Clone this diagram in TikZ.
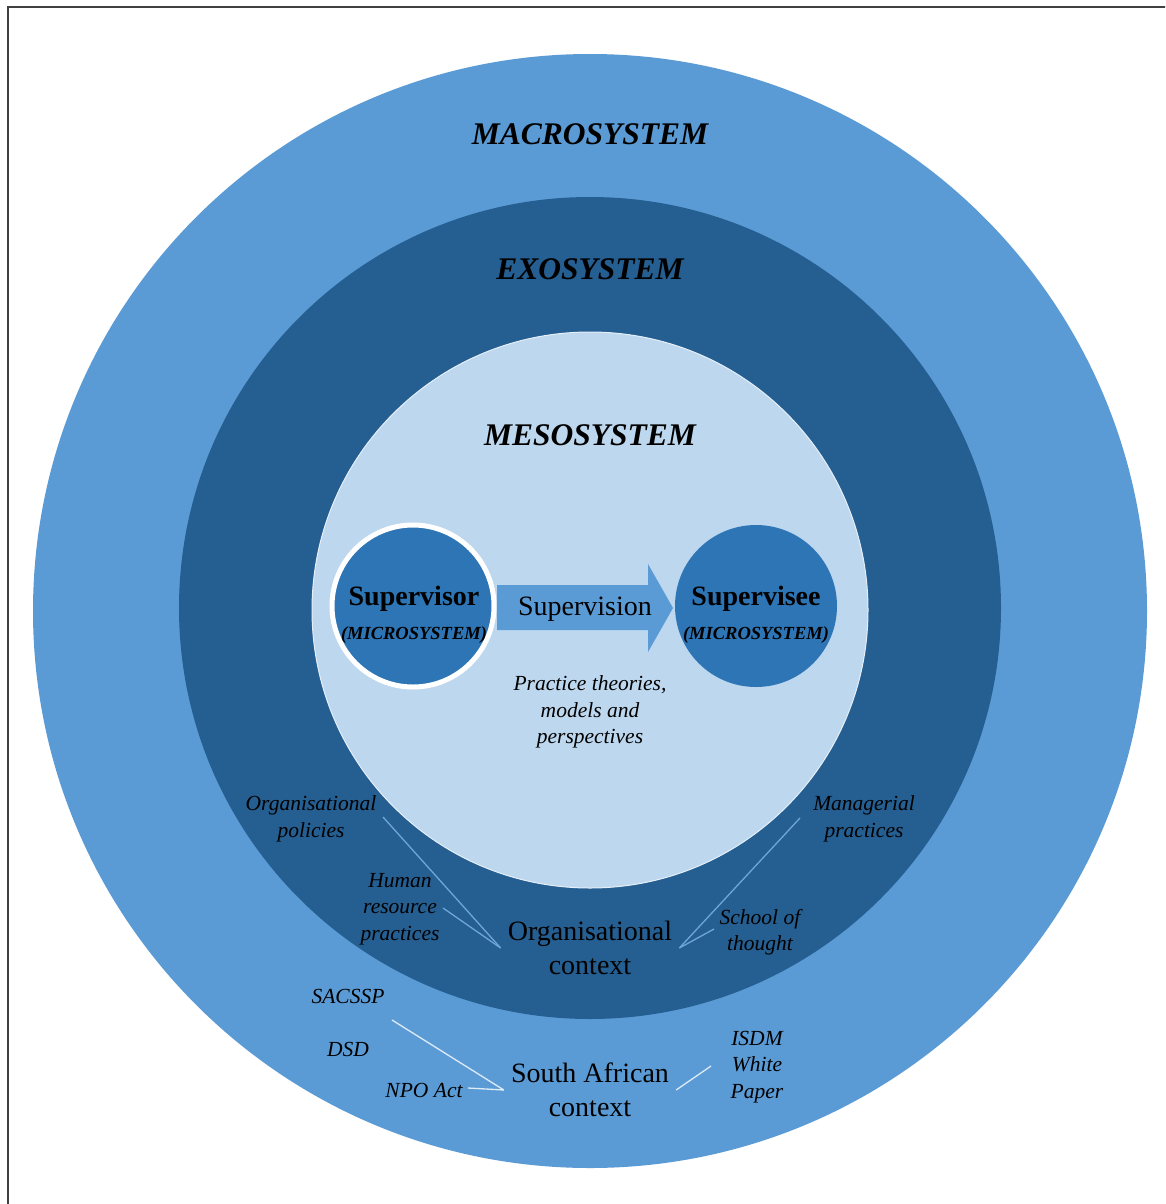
\documentclass[tikz,border=0pt]{standalone}
\usepackage{fontspec}
\setmainfont{Liberation Serif}
\usetikzlibrary{arrows.meta}

\definecolor{macrofill}{HTML}{5B9BD5}
\definecolor{exofill}{HTML}{255E91}
\definecolor{mesofill}{HTML}{BDD7EE}
\definecolor{microfill}{HTML}{2E75B6}
\definecolor{exoline}{HTML}{6FA6DA}
\definecolor{macroline}{HTML}{DDEBF7}

\tikzset{
  title/.style={font=\fontsize{31.5}{36}\selectfont\bfseries\itshape},
  micro/.style={circle, fill=microfill, minimum size=162, inner sep=0},
  actor/.style={font=\fontsize{28}{30}\selectfont\bfseries},
  microlab/.style={font=\fontsize{18.5}{20}\selectfont\bfseries\itshape},
  ctx/.style={font=\fontsize{28}{34}\selectfont, align=center, inner sep=7},
  factor/.style={font=\fontsize{21.5}{26.5}\selectfont\itshape, align=center},
  link/.style={line width=1.3, exoline},
  salink/.style={line width=1.3, macroline}
}

\begin{document}
\begin{tikzpicture}[x=1pt, y=-1pt]
\clip (0,0) rectangle (1165,1204);
\useasboundingbox (0,0) rectangle (1165,1204);
\fill[white] (0,0) rectangle (1165,1204);
\draw[line width=2, black!75] (8,1230) -- (8,7) -- (1190,7);
% system rings
\fill[macrofill] (590,611) circle (557);
\fill[exofill] (590,608) circle (411);
\fill[mesofill, draw=white!60!mesofill, line width=1] (590,610) circle (278);
\path (590,134) node (macro) [title] {MACROSYSTEM};
\path (590,269) node (exo) [title] {EXOSYSTEM};
\path (590,435) node (meso) [title] {MESOSYSTEM};
% supervision arrow
\fill[macrofill] (497,585) -- (648,585) -- (648,564) -- (673,608) -- (648,652) -- (648,630) -- (497,630) -- cycle;
\path (585,609) node (supervision) [font=\fontsize{28}{34}\selectfont] {Supervision};
\path (413,606) node (supervisor) [micro, draw=white, line width=5] {};
\path (756,606) node (supervisee) [micro] {};
\path (414,599) node (supervisortxt) [actor] {Supervisor};
\path (414,635) node (supervisormicro) [microlab] {(MICROSYSTEM)};
\path (756,599) node (superviseetxt) [actor] {Supervisee};
\path (756,635) node (superviseemicro) [microlab] {(MICROSYSTEM)};
\path (590,712) node (theories) [factor] {Practice theories,\\models and\\perspectives};
% organisational context
\path (590,948) node (orgctx) [ctx] {Organisational\\context};
\path (311,819) node (policies) [factor] {Organisational\\policies};
\path (400,909) node (hr) [factor] {Human\\resource\\practices};
\path (864,819) node (managerial) [factor] {Managerial\\practices};
\path (760,932) node (school) [factor] {School of\\thought};
\coordinate (policiesend) at (383,817);
\coordinate (hrend) at (443,908);
\coordinate (managerialend) at (800,818);
\coordinate (schoolend) at (714,929);
\draw[link] (policiesend) -- (orgctx.west);
\draw[link] (hrend) -- (orgctx.west);
\draw[link] (managerialend) -- (orgctx.east);
\draw[link] (schoolend) -- (orgctx.east);
% south african context
\path (590,1090) node (sactx) [ctx] {South African\\context};
\path (348,996) node (sacssp) [factor] {SACSSP};
\path (348,1049) node (dsd) [factor] {DSD};
\path (424,1090) node (npo) [factor] {NPO Act};
\path (757,1067) node (isdm) [factor] {ISDM\\White\\Paper};
\coordinate (sacsspend) at (392,1020);
\coordinate (npoend) at (468,1088);
\coordinate (isdmend) at (711,1066);
\draw[salink] (sacsspend) -- (sactx.west);
\draw[salink] (npoend) -- (sactx.west);
\draw[salink] (isdmend) -- (sactx.east);
\end{tikzpicture}
\end{document}
